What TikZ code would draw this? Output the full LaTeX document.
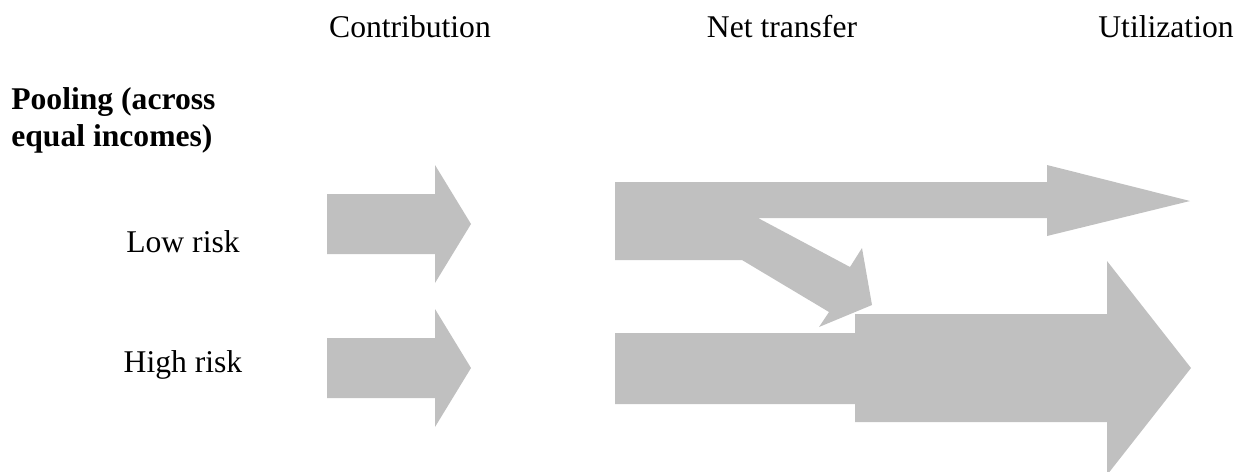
\documentclass[tikz,border=0pt]{standalone}
\usepackage{fontspec}
\setmainfont{Liberation Serif}
\definecolor{flowgray}{RGB}{192,192,192}
\tikzset{
    flow/.style = {fill=flowgray, draw=none},
    colhead/.style = {anchor=base, inner sep=0pt, font=\fontsize{18}{22}\selectfont},
    rowlabel/.style = {anchor=base, inner sep=0pt, font=\fontsize{18}{22}\selectfont},
    title/.style = {anchor=base west, inner sep=0pt, align=left,
        font=\fontsize{18}{21}\selectfont\bfseries}
}
\begin{document}
\begin{tikzpicture}[x=0.02cm, y=-0.02cm]
        \useasboundingbox (0, 0) rectangle (1251, 471);
        \clip (0, 0) rectangle (1251, 471);

        % column and row labels
        \path
            (410, 37)  node (contrib) [colhead] {Contribution}
            (782, 37)  node (net)     [colhead] {Net transfer}
            (1166, 37) node (util)    [colhead] {Utilization}
            (11, 146)  node (pool)    [title]   {Pooling (across\\equal incomes)}
            (183, 252) node (low)     [rowlabel] {Low risk}
            (183, 372) node (high)    [rowlabel] {High risk};

        % contributions
        \foreach \yc in {224, 368}
            \fill[flow] (327, \yc-30) -- (435, \yc-30) -- (435, \yc-59)
                -- (471, \yc) -- (435, \yc+59) -- (435, \yc+30)
                -- (327, \yc+30) -- cycle;

        % low risk: utilization plus the share handed on
        \fill[flow] (615, 182) -- (1047, 182) -- (1047, 165) -- (1190, 201)
            -- (1047, 236) -- (1047, 218) -- (758, 218) -- (850, 267)
            -- (862, 248) -- (872, 305) -- (819, 327) -- (829, 312)
            -- (742, 260) -- (615, 260) -- cycle;

        % high risk: own share widened by the transfer
        \fill[flow] (615, 333) -- (855, 333) -- (855, 314) -- (1107, 314)
            -- (1107, 261) -- (1191, 368) -- (1107, 475) -- (1107, 422)
            -- (855, 422) -- (855, 404) -- (615, 404) -- cycle;
    \end{tikzpicture}
\end{document}
